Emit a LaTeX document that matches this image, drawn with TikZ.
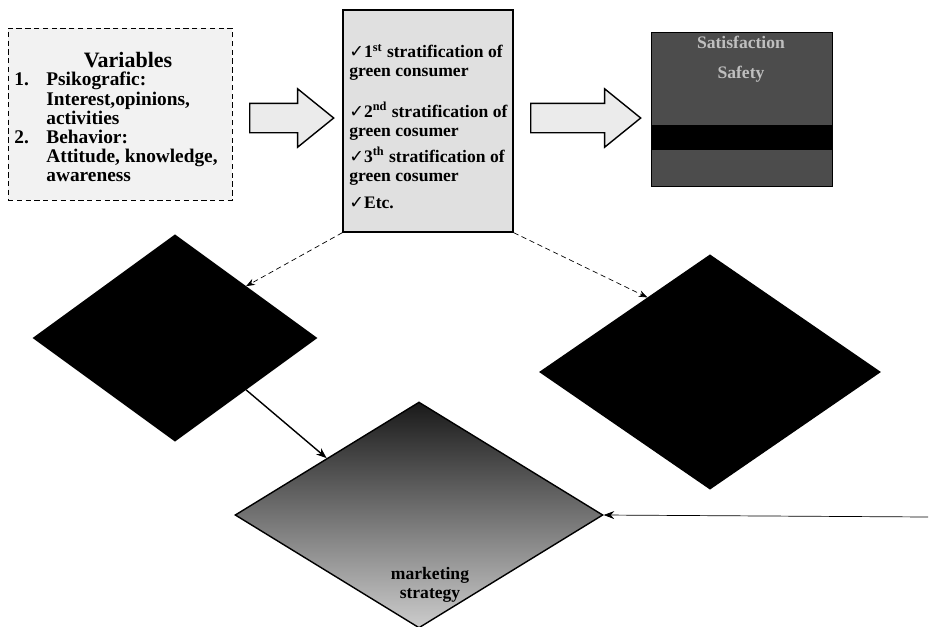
\documentclass[tikz,border=0pt]{standalone}
\usepackage{fontspec}
\setmainfont{Liberation Serif}
\newfontfamily\symfont{DejaVu Sans}
\usepackage{xcolor}
\usetikzlibrary{positioning,calc,shapes.geometric,shapes.arrows,arrows.meta}

\begin{document}
\begin{tikzpicture}[x=0.02cm,y=-0.02cm,
    txt/.style={font=\fontsize{10}{10.8}\selectfont\bfseries, align=left, inner sep=0pt},
    dia/.style={diamond, draw, thick, inner sep=0pt},
    blk/.style={single arrow, draw, thick, fill=black!8, inner xsep=0pt, inner ysep=0.28cm,
      single arrow head extend=0.29cm, single arrow tip angle=78, anchor=tail},
    link/.style={densely dashed, thin, -{Stealth[length=5pt]}}]
\useasboundingbox (0,0) rectangle (930,626);

% variables
\node[draw, densely dashed, fill=black!5, minimum width=4.48cm, minimum height=3.44cm, inner sep=0pt] (var) at (120,114) {};
\node[txt, font=\fontsize{12.5}{13}\selectfont\bfseries] (vtitle) at (128,60) {Variables};
\node[txt, font=\fontsize{11}{10.9}\selectfont\bfseries, anchor=north west] (vlist) at (14,72) {\begin{tabular}{@{}l@{\hspace{10pt}}l@{}}
1. & Psikografic:\\ & Interest,opinions,\\ & activities\\
2. & Behavior:\\ & Attitude, knowledge,\\ & awareness\end{tabular}};

% segments
\node[draw, thick, fill=black!12, minimum width=3.4cm, minimum height=4.44cm, inner sep=0pt] (mid) at (428,121) {};
\node[txt, anchor=north west] (s1) at (349,44) {{\symfont ✓}1\textsuperscript{st} stratification of\\green consumer};
\node[txt, anchor=north west] (s2) at (349,102) {{\symfont ✓}2\textsuperscript{nd} stratification of\\green cosumer};
\node[txt, anchor=north west] (s3) at (349,147) {{\symfont ✓}3\textsuperscript{th} stratification of\\green cosumer};
\node[txt, anchor=north west] (s4) at (349,197) {{\symfont ✓}Etc.};

% result
\node[draw, fill=black!70, minimum width=3.62cm, minimum height=3.08cm, inner sep=0pt] (res) at (741.5,109) {};
\fill[black] (651,125) rectangle (832,150);
\node[txt, text=black!25] (r1) at (741,42) {Satisfaction};
\node[txt, text=black!25] (r2) at (741,74) {Safety};

\node[blk, minimum height=1.68cm] (ar1) at (249,118) {};
\node[blk, minimum height=2.2cm] (ar2) at (530,118) {};

\node[dia, fill=black, minimum width=5.66cm, minimum height=4.12cm] (ldia) at (175,338) {};
\node[dia, fill=black, minimum width=6.8cm, minimum height=4.68cm] (rdia) at (710,372) {};
\node[dia, top color=black!90, bottom color=black!20, minimum width=7.36cm, minimum height=4.52cm] (bdia) at (419,515) {};
\node[txt, align=center] (strat) at (430,585) {marketing\\strategy};

\draw[link] (mid.south west) -- (ldia.north east);
\draw[link] (mid.south east) -- (rdia.130);
\draw[thick, -{Stealth[length=6pt]}] (ldia.south east) -- (bdia.north west);
\coordinate (feed) at (928,517);
\draw[thin, -{Stealth[length=6pt]}] (feed) -- (bdia.east);
\end{tikzpicture}
\end{document}
